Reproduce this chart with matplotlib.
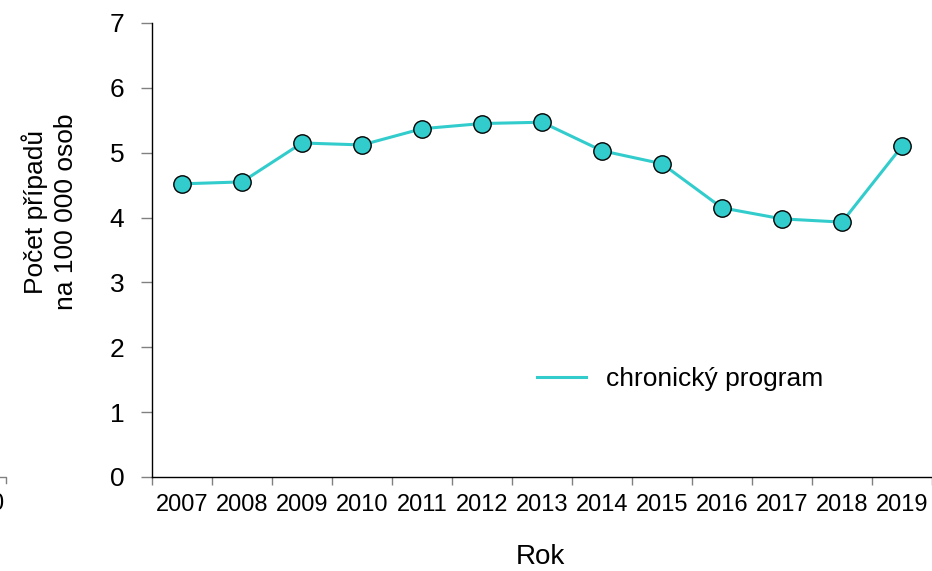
import numpy as np
import matplotlib
matplotlib.use("Agg")
import matplotlib.pyplot as plt
from matplotlib.lines import Line2D

plt.rcParams['font.family'] = ['Liberation Sans', 'DejaVu Sans']

# data
years = ['2007', '2008', '2009', '2010', '2011', '2012', '2013',
         '2014', '2015', '2016', '2017', '2018', '2019']
rate = [4.52, 4.55, 5.15, 5.12, 5.37, 5.45, 5.47,
        5.03, 4.83, 4.15, 3.98, 3.93, 5.10]
yticks = [0, 1, 2, 3, 4, 5, 6, 7]
series_name = 'chronický program'

COLOR = '#33CCCC'
W, H = 932, 571

fig = plt.figure(figsize=(W / 100, H / 100), dpi=100)
ax = fig.add_axes([152 / W, 1 - 477 / H, 780 / W, 454 / H])

x = np.arange(len(years))
ax.plot(x, rate, color=COLOR, lw=2.2, zorder=2)
ax.plot(x, rate, ls='none', marker='o', ms=12.5, mfc=COLOR, mec='black',
        mew=1.0, zorder=3)

ax.set_xlim(-0.5, len(years) - 0.5)
ax.set_ylim(0, 7)

# category labels centred, ticks on the boundaries
ax.set_xticks(x)
ax.set_xticklabels(years, fontsize=17)
ax.set_xticks(np.arange(len(years) + 1) - 0.5, minor=True)
ax.tick_params(axis='x', which='major', length=0, pad=12)
ax.tick_params(axis='x', which='minor', length=6, color='#808080', width=1)

ax.set_yticks(yticks)
ax.set_yticklabels([str(v) for v in yticks], fontsize=19)
ax.tick_params(axis='y', length=8, color='#808080', width=1, pad=12)

for s in ['top', 'right']:
    ax.spines[s].set_visible(False)
ax.spines['left'].set_linewidth(1.0)
ax.spines['bottom'].set_linewidth(1.0)

fig.text(50 / W, 1 - 212 / H, 'Počet případů\nna 100 000 osob', rotation=90,
         ha='center', va='center', fontsize=19, linespacing=1.3)
fig.text(540 / W, 1 - 557 / H, 'Rok', ha='center', va='center', fontsize=20)

# legend
ax.legend([Line2D([], [], color=COLOR, lw=2.2)], [series_name],
          loc='center left', bbox_to_anchor=((537 - 152) / 780, (477 - 379) / 454),
          frameon=False, fontsize=19, handlelength=1.85, handletextpad=0.76,
          borderpad=0, borderaxespad=0)

# leftover fragment of a neighbouring chart at the left edge
fig.add_artist(Line2D([0, 5.5 / W, 5.5 / W], [1 - 477 / H, 1 - 477 / H, 1 - 483 / H],
                      color='#808080', lw=1))
fig.text(3 / W, 1 - 504 / H, '0', ha='right', va='center', fontsize=17)

fig.savefig('out.png', dpi=100)
